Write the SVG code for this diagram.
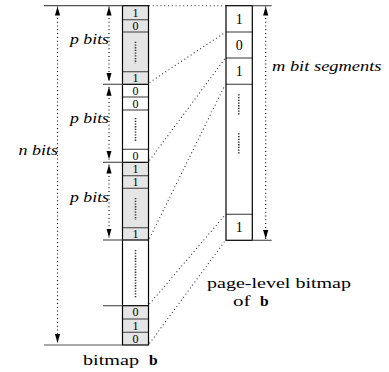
<svg xmlns="http://www.w3.org/2000/svg" width="389" height="372" viewBox="0 0 389 372">
<style>
.cell{stroke:none}
.g{fill:#e5e5e5}
.w{fill:#fff}
.div{stroke:#555;stroke-width:1.2}
.box{fill:none;stroke:#000;stroke-width:1.2}
.ext{stroke:#555;stroke-width:1.2}
.dots{stroke:#333;stroke-width:1.6;stroke-dasharray:1.3 1.4}
.dim{stroke:#000;stroke-width:1.1;stroke-dasharray:1 2.8;marker-start:url(#ah);marker-end:url(#ah)}
.con{stroke:#333;stroke-width:1.1;stroke-dasharray:1 2.8;fill:none}
.d1{font-family:"Liberation Serif","Times New Roman",serif;font-size:12px;text-anchor:middle;fill:#000}
.d2{font-family:"Liberation Serif","Times New Roman",serif;font-size:14px;text-anchor:middle;fill:#000}
.lab{font-family:"Liberation Serif","Times New Roman",serif;font-style:italic;font-size:15.5px;fill:#000}
.cap{font-family:"Liberation Serif","Times New Roman",serif;font-size:15.5px;fill:#000}
.bold{font-weight:bold}
</style>
<defs>
<marker id="ah" viewBox="0 0 9 6" markerWidth="9" markerHeight="6" refX="9" refY="3" orient="auto-start-reverse" markerUnits="userSpaceOnUse">
<path d="M0,0.4 L9,3 L0,5.6 z" fill="#000" stroke="none"/>
</marker>
</defs>

<g id="bitmap-b">
<rect class="cell g" x="122.5" y="5.7" width="26" height="78.6"/>
<rect class="cell w" x="122.5" y="84.3" width="26" height="78"/>
<rect class="cell g" x="122.5" y="162.3" width="26" height="77.7"/>
<rect class="cell w" x="122.5" y="240" width="26" height="65.7"/>
<rect class="cell g" x="122.5" y="305.7" width="26" height="39.3"/>
<line class="div" x1="122.5" y1="19.7" x2="148.5" y2="19.7"/>
<line class="div" x1="122.5" y1="32" x2="148.5" y2="32"/>
<line class="div" x1="122.5" y1="71.7" x2="148.5" y2="71.7"/>
<line class="div" x1="122.5" y1="97" x2="148.5" y2="97"/>
<line class="div" x1="122.5" y1="110" x2="148.5" y2="110"/>
<line class="div" x1="122.5" y1="149.3" x2="148.5" y2="149.3"/>
<line class="div" x1="122.5" y1="175.7" x2="148.5" y2="175.7"/>
<line class="div" x1="122.5" y1="188.3" x2="148.5" y2="188.3"/>
<line class="div" x1="122.5" y1="227.7" x2="148.5" y2="227.7"/>
<line class="div" x1="122.5" y1="319" x2="148.5" y2="319"/>
<line class="div" x1="122.5" y1="332.3" x2="148.5" y2="332.3"/>
<line class="box" x1="122.5" y1="84.3" x2="148.5" y2="84.3"/>
<line class="box" x1="122.5" y1="162.3" x2="148.5" y2="162.3"/>
<line class="box" x1="122.5" y1="240" x2="148.5" y2="240"/>
<line class="box" x1="122.5" y1="305.7" x2="148.5" y2="305.7"/>
<rect class="box" x="122.5" y="5.7" width="26" height="339.3"/>
<line class="dots" x1="135.5" y1="41.7" x2="135.5" y2="63.5"/>
<line class="dots" x1="135.5" y1="118" x2="135.5" y2="142"/>
<line class="dots" x1="135.5" y1="198" x2="135.5" y2="220"/>
<line class="dots" x1="135.5" y1="250" x2="135.5" y2="298.5"/>
<text class="d1" x="135.5" y="16.8">1</text>
<text class="d1" x="135.5" y="29.9">0</text>
<text class="d1" x="135.5" y="82.1">1</text>
<text class="d1" x="135.5" y="94.7">0</text>
<text class="d1" x="135.5" y="107.6">0</text>
<text class="d1" x="135.5" y="159.9">0</text>
<text class="d1" x="135.5" y="173.1">1</text>
<text class="d1" x="135.5" y="186.1">1</text>
<text class="d1" x="135.5" y="237.9">1</text>
<text class="d1" x="135.5" y="316.4">0</text>
<text class="d1" x="135.5" y="329.7">1</text>
<text class="d1" x="135.5" y="342.7">0</text>
</g>

<g id="page-level-bitmap">
<rect class="cell w" x="226" y="5.7" width="26.3" height="234.6"/>
<line class="div" x1="226" y1="32" x2="252.3" y2="32"/>
<line class="div" x1="226" y1="58" x2="252.3" y2="58"/>
<line class="div" x1="226" y1="84.3" x2="252.3" y2="84.3"/>
<line class="div" x1="226" y1="214.3" x2="252.3" y2="214.3"/>
<rect class="box" x="226" y="5.7" width="26.3" height="234.6"/>
<line class="dots" x1="238.8" y1="94.3" x2="238.8" y2="115"/>
<line class="dots" x1="238.8" y1="133.3" x2="238.8" y2="154.5"/>
<text class="d2" x="239.2" y="23.5">1</text>
<text class="d2" x="239.2" y="49.7">0</text>
<text class="d2" x="239.2" y="75.8">1</text>
<text class="d2" x="239.2" y="232">1</text>
</g>

<g id="extension-lines">
<line class="ext" x1="44" y1="5.7" x2="122.5" y2="5.7"/>
<line class="ext" x1="44" y1="345" x2="122.5" y2="345"/>
<line class="ext" x1="103" y1="84.3" x2="122.5" y2="84.3"/>
<line class="ext" x1="103" y1="162.3" x2="122.5" y2="162.3"/>
<line class="ext" x1="103" y1="240" x2="122.5" y2="240"/>
<line class="ext" x1="103" y1="305.7" x2="122.5" y2="305.7"/>
<line class="ext" x1="252.3" y1="5.7" x2="271.7" y2="5.7"/>
<line class="ext" x1="252.3" y1="240.3" x2="271.7" y2="240.3"/>
</g>

<g id="connectors">
<line class="con" x1="149" y1="5.7" x2="226" y2="5.7"/>
<line class="con" x1="149.5" y1="82.5" x2="225" y2="32.5"/>
<line class="con" x1="149.5" y1="160.5" x2="225" y2="58.5"/>
<line class="con" x1="149.5" y1="238.5" x2="225" y2="85"/>
<line class="con" x1="149.5" y1="304" x2="225" y2="215"/>
<line class="con" x1="149.5" y1="343.5" x2="225" y2="241"/>
</g>

<g id="dimensions">
<line class="dim" x1="57.5" y1="6.5" x2="57.5" y2="343"/>
<line class="dim" x1="109" y1="6.5" x2="109" y2="81.7"/>
<line class="dim" x1="109" y1="86.7" x2="109" y2="159.5"/>
<line class="dim" x1="109" y1="164.5" x2="109" y2="237.5"/>
<line class="dim" x1="265.7" y1="6.5" x2="265.7" y2="239"/>
</g>

<g id="labels">
<text class="lab" x="70" y="44.3" textLength="39" lengthAdjust="spacingAndGlyphs">p bits</text>
<text class="lab" x="70" y="123" textLength="39" lengthAdjust="spacingAndGlyphs">p bits</text>
<text class="lab" x="70" y="201.5" textLength="39" lengthAdjust="spacingAndGlyphs">p bits</text>
<text class="lab" x="18.5" y="155" textLength="39.5" lengthAdjust="spacingAndGlyphs">n bits</text>
<text class="lab" x="272" y="71" textLength="109.5" lengthAdjust="spacingAndGlyphs">m bit segments</text>
<text class="cap" x="83" y="364.5" textLength="56" lengthAdjust="spacingAndGlyphs">bitmap</text>
<text class="cap bold" x="149" y="364.5">b</text>
<text class="cap" x="207" y="288" textLength="144" lengthAdjust="spacingAndGlyphs">page-level bitmap</text>
<text class="cap" x="233" y="306" textLength="17.5" lengthAdjust="spacingAndGlyphs">of</text>
<text class="cap bold" x="260" y="306">b</text>
</g>
</svg>
